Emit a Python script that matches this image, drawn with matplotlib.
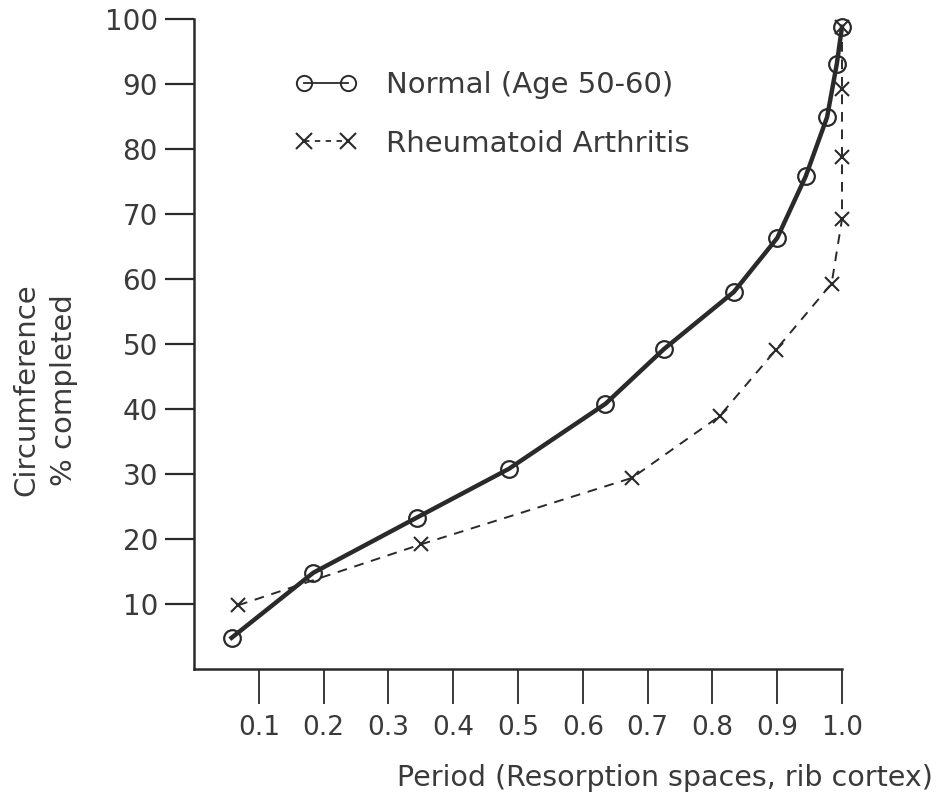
import numpy as np
import matplotlib
matplotlib.use("Agg")
import matplotlib.pyplot as plt
from matplotlib.lines import Line2D

# valores
normal_x = [0.058, 0.184, 0.344, 0.486, 0.635, 0.725, 0.833, 0.900, 0.944, 0.977, 0.992, 1.0]
normal_y = [4.8, 14.8, 23.3, 30.8, 40.8, 49.2, 58.0, 66.3, 75.8, 84.9, 93.1, 98.8]

ra_x = [0.068, 0.351, 0.676, 0.811, 0.898, 0.984, 1.0, 1.0, 1.0, 1.0]
ra_y = [9.8, 19.2, 29.4, 38.9, 49.1, 59.3, 69.2, 78.8, 89.2, 98.8]

xticks = [0.1, 0.2, 0.3, 0.4, 0.5, 0.6, 0.7, 0.8, 0.9, 1.0]
xtick_labels = ["0.1", "0.2", "0.3", "0.4", "0.5", "0.6", "0.7", "0.8", "0.9", "1.0"]
yticks = [10, 20, 30, 40, 50, 60, 70, 80, 90, 100]

ink = "#2a2a2a"
txt = "#3a3a3a"
plt.rcParams['font.family'] = ['DejaVu Sans']

fig = plt.figure(figsize=(9.39, 7.97), dpi=100)
ax = fig.add_axes([194/939, 1 - 669/797, 648/939, 650/797])

# curva normal
ax.plot(normal_x, normal_y, color=ink, lw=3.2, marker="o", ms=12, mfc="none",
        mec=ink, mew=1.6, clip_on=False, zorder=3)
# artritis reumatoide
ax.plot(ra_x, ra_y, color=ink, lw=1.4, ls=(0, (5, 4)), marker="x", ms=10,
        mec=ink, mew=1.5, clip_on=False, zorder=2)

ax.set_xlim(0, 1.0)
ax.set_ylim(0, 100)
ax.spines["top"].set_visible(False)
ax.spines["right"].set_visible(False)
for s in ["left", "bottom"]:
    ax.spines[s].set_linewidth(1.8)
    ax.spines[s].set_color(ink)

ax.set_xticks(xticks)
ax.set_xticklabels(xtick_labels)
ax.set_yticks(yticks)
ax.tick_params(axis="x", direction="out", length=25, width=1.3, color=ink,
               labelsize=19, labelcolor=txt, pad=8)
ax.tick_params(axis="y", direction="out", length=21, width=1.6, color=ink,
               labelsize=20, labelcolor=txt, pad=5)

ax.set_xlabel("Period (Resorption spaces, rib cortex)", fontsize=20.5, color=txt,
              ha="right", va="center")
ax.xaxis.set_label_coords(1.14, -0.168)
ax.set_ylabel("Circumference\n% completed", fontsize=21, color=txt,
              linespacing=1.45, va="center", ha="center")
ax.yaxis.set_label_coords(-0.23, 0.429)

handles = [
    Line2D([], [], color=ink, lw=1.3, marker="o", ms=11, mfc="none", mec=ink, mew=1.4),
    Line2D([], [], color=ink, lw=1.3, ls=(0, (3, 3)), marker="x", ms=11, mec=ink, mew=1.5),
]
ax.legend(handles, ["Normal (Age 50-60)", "Rheumatoid Arthritis"], loc="upper left",
          bbox_to_anchor=(0.156, 0.92), frameon=False, numpoints=2, fontsize=21,
          handlelength=2.1, handletextpad=1.0, labelspacing=1.05, borderpad=0,
          borderaxespad=0, labelcolor=txt)

fig.savefig("out.png", dpi=100)
